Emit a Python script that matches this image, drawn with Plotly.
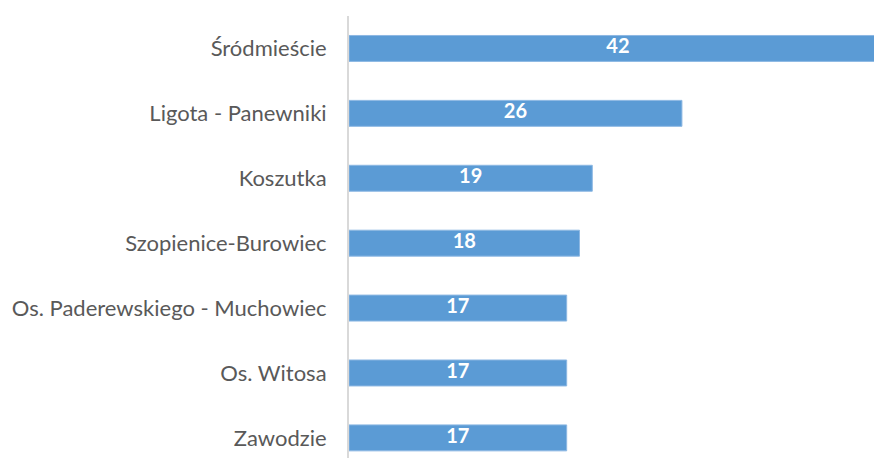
import plotly.graph_objects as go

categories = ["Śródmieście", "Ligota - Panewniki", "Koszutka", "Szopienice-Burowiec",
              "Os. Paderewskiego - Muchowiec", "Os. Witosa", "Zawodzie"]
values = [42, 26, 19, 18, 17, 17, 17]

cats_bt = categories[::-1]
vals_bt = values[::-1]

fig = go.Figure()
fig.add_trace(go.Bar(
    y=cats_bt, x=vals_bt, orientation="h", width=0.4,
    marker=dict(color="#5B9BD5", line=dict(color="#8DB8E3", width=1)),
    hoverinfo="skip",
))
fig.add_trace(go.Scatter(
    y=cats_bt, x=[v / 2 for v in vals_bt], mode="text",
    text=[str(v) for v in vals_bt],
    textfont=dict(family="Lato", size=20, color="white", weight="bold"),
    textposition="middle center", hoverinfo="skip",
))

fig.update_layout(
    width=874, height=458,
    margin=dict(l=349, r=0, t=16, b=0),
    plot_bgcolor="white", paper_bgcolor="white",
    showlegend=False,
    xaxis=dict(range=[0, 41.0], showgrid=False, zeroline=False, showticklabels=False,
               showline=False, fixedrange=True),
    yaxis=dict(type="category", categoryorder="array", categoryarray=cats_bt,
               range=[-0.31, 6.5], showgrid=False, zeroline=False,
               showline=True, linecolor="#D9D9D9", linewidth=2,
               ticks="", ticklabelstandoff=16, fixedrange=True,
               tickfont=dict(family="Lato", size=22, color="#595959")),
)
fig.write_html("out.html", config={"displayModeBar": False},
               post_script="document.body.style.margin='0';")
